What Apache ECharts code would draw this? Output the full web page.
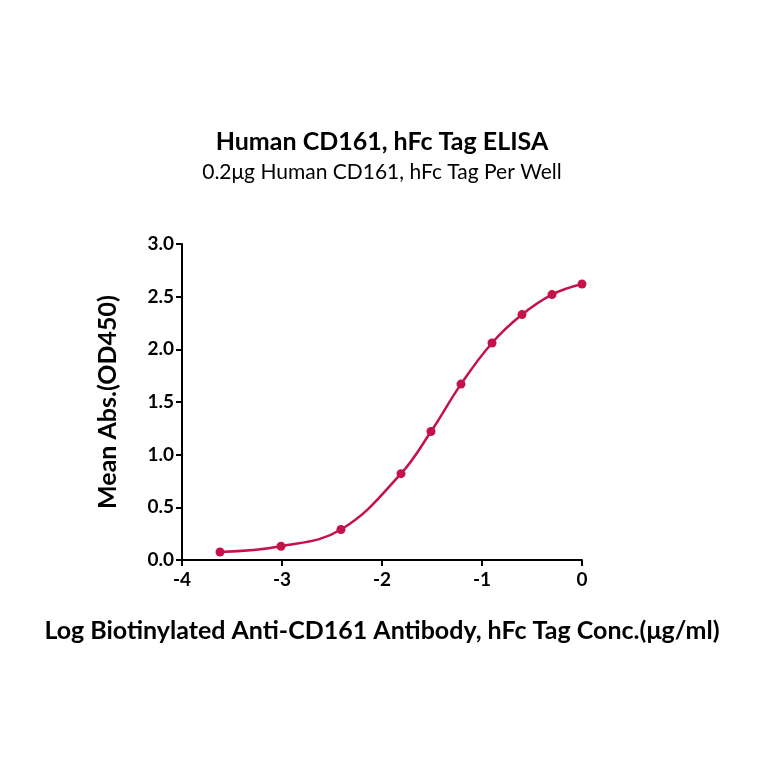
<!DOCTYPE html>
<html><head><meta charset="utf-8">
<script src="https://cdn.jsdelivr.net/npm/echarts@6/dist/echarts.min.js"></script>
<style>html,body{margin:0;background:#fff}#c{width:764px;height:764px}</style>
</head><body><div id="c"></div>
<script>
const logConc = [-3.62, -3.01, -2.41, -1.81, -1.51, -1.21, -0.90, -0.60, -0.30, 0];
const meanAbs = [0.076, 0.13, 0.29, 0.82, 1.22, 1.67, 2.06, 2.33, 2.52, 2.62];
const font = "Lato, 'Noto Sans', sans-serif";

echarts.init(document.getElementById("c")).setOption({
    animation: false,
    title: {
        text: "Human CD161, hFc Tag ELISA",
        subtext: "0.2μg Human CD161, hFc Tag Per Well",
        left: "center",
        top: 124,
        itemGap: 8,
        textStyle: { fontFamily: font, fontSize: 25, fontWeight: "bold", color: "#000" },
        subtextStyle: { fontFamily: font, fontSize: 21, color: "#000" },
    },
    grid: { left: 182, right: 182, top: 244, bottom: 204 },
    xAxis: {
        type: "value",
        min: -4,
        max: 0,
        interval: 1,
        name: "Log Biotinylated Anti-CD161 Antibody, hFc Tag Conc.(μg/ml)",
        nameLocation: "middle",
        nameGap: 58,
        nameTextStyle: { fontFamily: font, fontSize: 25, fontWeight: "bold", color: "#000" },
        axisLine: { onZero: false, lineStyle: { color: "#000", width: 2 } },
        axisTick: { lineStyle: { color: "#000", width: 2 }, length: 6 },
        axisLabel: { fontFamily: font, fontSize: 19, fontWeight: "bold", color: "#000", margin: 10 },
        splitLine: { show: false },
    },
    yAxis: {
        type: "value",
        min: 0,
        max: 3,
        interval: 0.5,
        name: "Mean Abs.(OD450)",
        nameLocation: "middle",
        nameGap: 62,
        nameTextStyle: { fontFamily: font, fontSize: 25, fontWeight: "bold", color: "#000" },
        axisLine: { show: true, onZero: false, lineStyle: { color: "#000", width: 2 } },
        axisTick: { show: true, lineStyle: { color: "#000", width: 2 }, length: 6 },
        axisLabel: { fontFamily: font, fontSize: 19, fontWeight: "bold", color: "#000", formatter: v => v.toFixed(1) },
        splitLine: { show: false },
    },
    series: [{
        type: "line",
        data: logConc.map((x, i) => [x, meanAbs[i]]),
        smooth: 0.4,
        symbol: "circle",
        symbolSize: 9,
        itemStyle: { color: "#c3134a" },
        lineStyle: { color: "#c3134a", width: 2.5 },
    }],
});
</script></body></html>
